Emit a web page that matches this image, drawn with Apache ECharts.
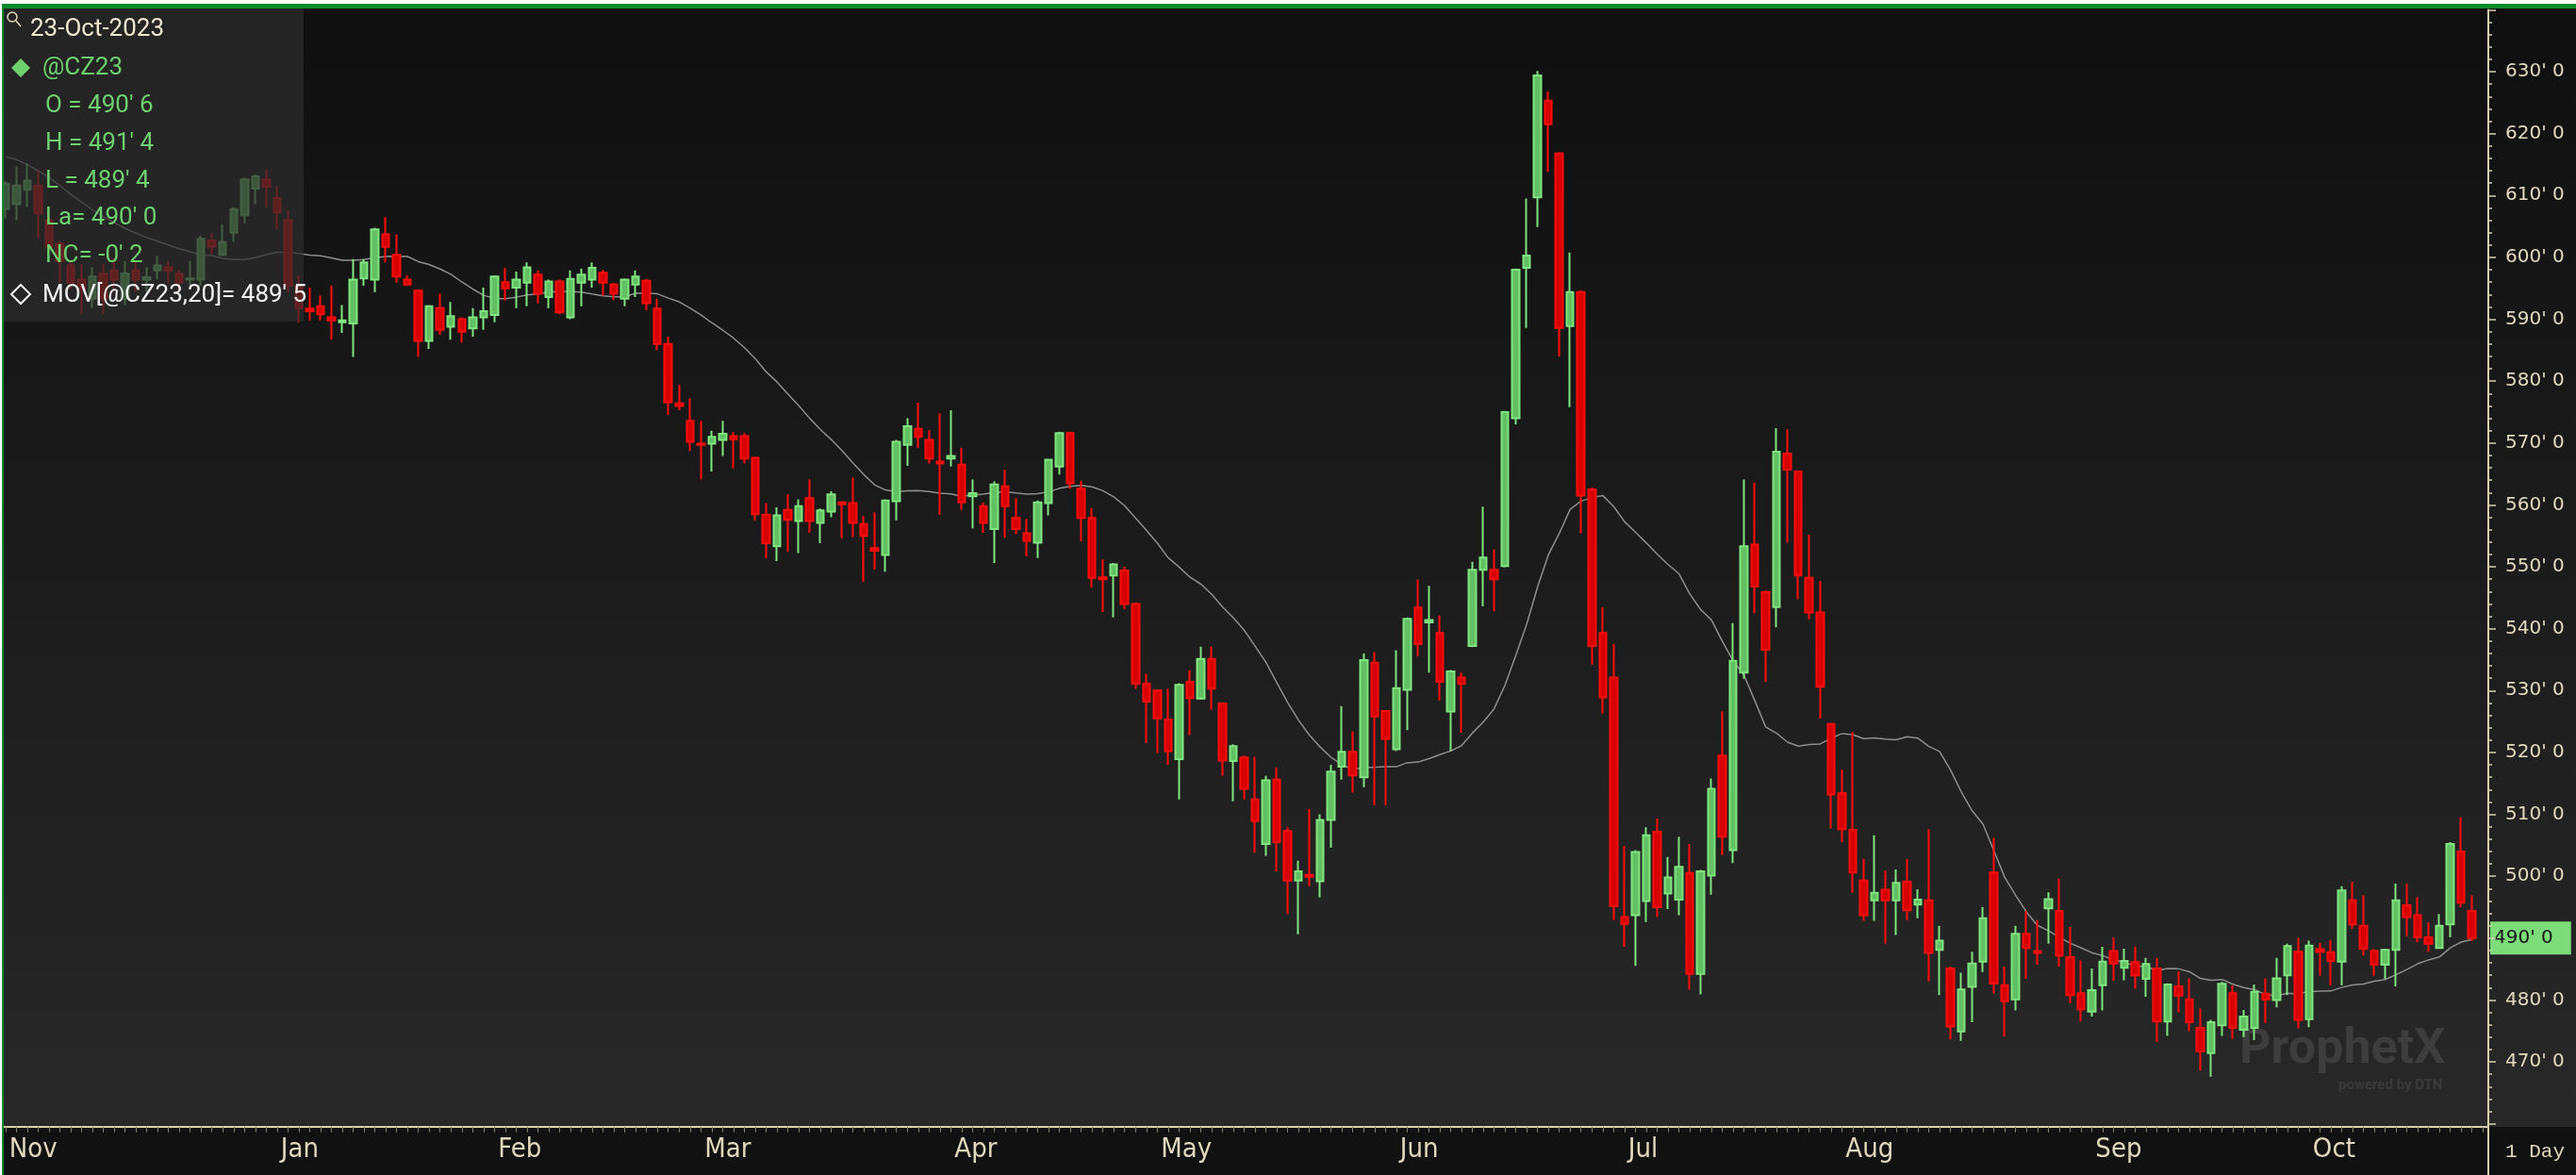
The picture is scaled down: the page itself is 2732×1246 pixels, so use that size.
<!DOCTYPE html>
<html>
<head>
<meta charset="utf-8">
<title>@CZ23 daily</title>
<script src="https://cdn.jsdelivr.net/npm/echarts@6.0.0/dist/echarts.min.js"></script>
<style>
  html, body { margin: 0; padding: 0; background: #ffffff; }
  #chart { position: absolute; left: 0; top: 0; width: 2732px; height: 1246px; }
  .edge { position: absolute; pointer-events: none; }
</style>
</head>
<body>
<div id="chart"></div>
<div class="edge" style="left:0;top:0;width:2732px;height:4px;background:#ffffff"></div>
<div class="edge" style="left:0;top:4px;width:2732px;height:5px;background:#0b8a2c"></div>
<div class="edge" style="left:0;top:0;width:2px;height:1246px;background:#ffffff"></div>
<div class="edge" style="left:2px;top:4px;width:2px;height:1242px;background:#0b8a2c"></div>
<script>
// trading days on the chart, one list per month
const monthKeys = ['2022-11', '2022-12', '2023-01', '2023-02', '2023-03', '2023-04',
  '2023-05', '2023-06', '2023-07', '2023-08', '2023-09', '2023-10']
const monthNames = ['Nov', 'Dec', 'Jan', 'Feb', 'Mar', 'Apr', 'May', 'Jun', 'Jul', 'Aug', 'Sep', 'Oct']
const tradingDays = [
  [25, 28, 29, 30],
  [1, 2, 5, 6, 7, 8, 9, 12, 13, 14, 15, 16, 19, 20, 21, 22, 23, 27, 28, 29, 30],
  [3, 4, 5, 6, 9, 10, 11, 12, 13, 17, 18, 19, 20, 23, 24, 25, 26, 27, 30, 31],
  [1, 2, 3, 6, 7, 8, 9, 10, 13, 14, 15, 16, 17, 21, 22, 23, 24, 27, 28],
  [1, 2, 3, 6, 7, 8, 9, 10, 13, 14, 15, 16, 17, 20, 21, 22, 23, 24, 27, 28, 29, 30, 31],
  [3, 4, 5, 6, 10, 11, 12, 13, 14, 17, 18, 19, 20, 21, 24, 25, 26, 27, 28],
  [1, 2, 3, 4, 5, 8, 9, 10, 11, 12, 15, 16, 17, 18, 19, 22, 23, 24, 25, 26, 30, 31],
  [1, 2, 5, 6, 7, 8, 9, 12, 13, 14, 15, 16, 20, 21, 22, 23, 26, 27, 28, 29, 30],
  [3, 5, 6, 7, 10, 11, 12, 13, 14, 17, 18, 19, 20, 21, 24, 25, 26, 27, 28, 31],
  [1, 2, 3, 4, 7, 8, 9, 10, 11, 14, 15, 16, 17, 18, 21, 22, 23, 24, 25, 28, 29, 30, 31],
  [1, 5, 6, 7, 8, 11, 12, 13, 14, 15, 18, 19, 20, 21, 22, 25, 26, 27, 28, 29],
  [2, 3, 4, 5, 6, 9, 10, 11, 12, 13, 16, 17, 18, 19, 20, 23]
]

// [open, close, low, high] in cents
const nov22 = [
  [607.8, 611.9, 606.3, 612.3], [608.6, 611.6, 606.0, 614.7], [610.9, 612.4, 608.1, 615.2],
  [611.6, 607.1, 603.0, 614.2]
]
const dec22 = [
  [606.0, 601.7, 601.2, 606.5], [602.2, 599.4, 595.9, 602.7], [598.7, 595.9, 594.9, 599.2],
  [596.4, 594.9, 590.8, 598.9], [593.3, 596.9, 591.8, 598.4], [597.4, 593.3, 590.8, 598.9],
  [597.9, 596.4, 594.4, 599.9], [593.3, 597.4, 592.3, 599.4], [597.9, 596.4, 594.4, 599.4],
  [596.4, 596.8, 594.4, 598.4], [597.9, 598.7, 596.4, 600.2], [598.4, 597.9, 595.9, 599.4],
  [597.4, 595.9, 594.4, 597.9], [596.4, 596.6, 594.9, 599.4], [596.4, 603.0, 595.4, 603.5],
  [602.7, 601.7, 600.4, 604.0], [600.4, 602.5, 600.2, 605.3], [604.0, 607.8, 602.5, 608.1],
  [606.8, 612.6, 605.5, 612.9], [611.1, 613.1, 608.6, 613.4], [612.6, 611.4, 608.1, 614.2]
]
const jan23 = [
  [609.6, 607.3, 604.5, 611.6], [606.0, 595.4, 594.4, 607.6], [595.4, 591.8, 589.5, 597.1],
  [591.7, 591.3, 589.8, 595.1], [592.1, 590.8, 589.8, 593.8], [590.3, 589.8, 586.7, 595.4],
  [589.5, 589.8, 587.8, 592.3], [589.3, 596.4, 583.9, 599.7], [596.6, 599.2, 595.4, 599.7],
  [596.4, 604.5, 594.4, 604.8], [603.7, 601.7, 599.2, 606.5], [600.4, 596.9, 595.9, 603.7],
  [596.4, 595.6, 595.4, 597.1], [594.6, 586.5, 583.9, 594.8], [586.5, 592.1, 585.2, 592.3],
  [591.8, 588.3, 587.5, 594.1], [588.8, 590.5, 586.7, 592.8], [590.0, 588.0, 586.2, 590.3],
  [588.5, 590.3, 587.2, 591.8], [590.3, 591.3, 588.3, 595.1]
]
const feb23 = [
  [590.7, 596.9, 589.5, 597.1], [596.0, 595.0, 593.0, 598.3], [595.1, 596.4, 591.8, 597.7],
  [595.9, 598.4, 592.1, 599.2], [597.2, 594.1, 592.6, 597.9], [593.6, 596.1, 591.8, 596.4],
  [596.1, 591.1, 590.8, 596.4], [590.3, 596.5, 590.0, 597.9], [595.9, 597.2, 592.1, 598.2],
  [596.4, 598.3, 595.1, 599.2], [597.5, 595.9, 593.8, 598.0], [595.6, 594.1, 593.1, 595.9],
  [593.3, 596.4, 592.1, 596.6], [595.6, 596.9, 593.6, 597.9], [596.2, 592.6, 591.5, 596.5],
  [591.7, 586.0, 585.0, 593.3], [586.0, 576.6, 574.5, 587.2], [576.4, 576.0, 575.3, 579.4],
  [573.6, 570.2, 568.7, 577.2]
]
const mar23 = [
  [569.9, 569.7, 564.1, 573.6], [569.9, 571.0, 565.4, 572.0], [570.5, 571.5, 567.9, 573.6],
  [571.1, 570.6, 565.9, 571.8], [571.1, 567.5, 566.7, 571.6], [567.6, 558.5, 557.5, 567.8],
  [558.4, 553.8, 551.4, 560.3], [553.3, 558.3, 550.9, 559.6], [559.2, 557.6, 552.4, 561.7],
  [557.4, 559.8, 552.2, 560.9], [561.1, 557.4, 555.5, 564.1], [557.1, 559.1, 553.8, 559.4],
  [558.9, 561.7, 558.0, 562.2], [560.4, 560.1, 554.6, 560.6], [560.3, 557.1, 554.8, 564.4],
  [556.9, 555.0, 547.6, 558.2], [553.0, 552.6, 549.6, 558.8], [551.9, 560.7, 549.2, 560.9],
  [560.6, 570.2, 557.5, 570.5], [569.7, 572.7, 566.3, 574.0], [572.3, 571.0, 569.2, 576.5],
  [570.5, 567.5, 566.7, 572.1], [567.0, 566.7, 558.4, 574.8]
]
const apr23 = [
  [567.5, 567.9, 566.2, 575.3], [566.5, 560.4, 559.2, 569.2], [561.4, 561.9, 556.2, 564.1],
  [559.8, 557.1, 555.5, 560.4], [556.1, 563.3, 550.6, 563.8], [563.0, 559.8, 554.7, 565.7],
  [557.9, 556.1, 555.3, 561.1], [555.4, 554.2, 551.7, 557.7], [553.9, 560.4, 551.4, 560.7],
  [560.3, 567.3, 558.3, 567.4], [566.2, 571.6, 564.9, 571.8], [571.6, 563.5, 562.6, 571.8],
  [562.6, 557.9, 554.1, 563.9], [557.9, 548.2, 546.6, 559.5], [548.3, 548.0, 542.7, 551.2],
  [548.6, 550.4, 541.8, 550.6], [549.4, 544.0, 543.2, 550.0], [544.0, 531.1, 530.3, 544.2],
  [531.1, 528.2, 521.5, 532.7]
]
const may23 = [
  [530.0, 525.5, 519.9, 530.2], [525.3, 520.2, 518.0, 530.3], [518.9, 530.9, 512.4, 531.2],
  [531.4, 528.8, 522.8, 533.3], [528.7, 535.1, 528.5, 537.1], [535.1, 530.3, 526.9, 537.1],
  [527.9, 518.7, 516.2, 528.1], [518.6, 521.0, 512.1, 521.3], [519.2, 514.1, 512.4, 519.5],
  [512.4, 508.9, 503.8, 519.3], [505.2, 515.5, 503.3, 516.2], [515.6, 505.5, 500.8, 517.5],
  [507.3, 499.3, 493.9, 507.9], [499.3, 500.8, 490.6, 502.5], [500.2, 499.9, 498.4, 510.9],
  [499.2, 509.1, 496.6, 510.0], [509.1, 516.9, 504.6, 518.0], [517.7, 520.1, 515.6, 527.5],
  [520.1, 516.3, 513.5, 523.4], [516.0, 534.9, 514.4, 536.0], [534.5, 525.8, 511.5, 536.2],
  [526.7, 522.2, 511.5, 526.8]
]
const jun23 = [
  [520.5, 530.4, 520.2, 536.5], [530.1, 541.6, 523.6, 541.8], [543.4, 537.5, 535.5, 547.9],
  [541.0, 541.4, 532.9, 546.9], [539.3, 531.4, 528.4, 542.1], [526.6, 533.1, 520.2, 533.3],
  [532.1, 531.1, 523.2, 532.9], [537.2, 549.5, 537.0, 550.8], [549.5, 551.5, 543.6, 559.7],
  [549.5, 548.0, 542.8, 552.8], [550.1, 575.0, 549.9, 575.2], [574.0, 598.0, 573.0, 598.2],
  [598.3, 600.3, 588.6, 609.5], [609.7, 629.4, 604.9, 630.1], [625.3, 621.5, 613.8, 626.8],
  [616.8, 588.6, 584.0, 617.0], [588.9, 594.4, 575.8, 600.8], [594.4, 561.5, 555.4, 594.7],
  [562.5, 537.2, 534.2, 562.8], [539.3, 528.9, 526.3, 543.4], [532.1, 495.2, 492.9, 537.5]
]
const jul23 = [
  [493.4, 492.3, 488.6, 504.9], [493.7, 503.9, 485.5, 504.2], [496.0, 506.6, 492.6, 507.9],
  [507.2, 495.0, 493.4, 509.3], [497.2, 499.8, 494.7, 503.1], [496.2, 501.5, 493.7, 506.4],
  [500.5, 484.2, 481.7, 505.2], [484.2, 500.8, 480.9, 501.0], [500.1, 514.1, 497.0, 515.8],
  [519.5, 506.4, 503.4, 526.6], [504.2, 534.8, 502.1, 540.9], [532.9, 553.3, 531.9, 564.1],
  [553.6, 546.8, 542.5, 563.6], [545.9, 536.6, 531.4, 546.2], [543.5, 568.6, 540.2, 572.4],
  [568.3, 565.7, 553.9, 572.2], [565.4, 548.6, 544.8, 565.6], [548.2, 542.6, 541.5, 555.2],
  [542.6, 530.6, 525.5, 547.7], [524.6, 513.2, 507.7, 524.8]
]
const aug23 = [
  [513.4, 507.6, 505.5, 517.2], [507.5, 500.6, 497.3, 523.3], [499.3, 493.7, 492.8, 502.8],
  [496.1, 497.3, 492.8, 506.6], [497.8, 496.1, 489.1, 500.9], [496.1, 498.9, 490.5, 501.1],
  [499.1, 494.5, 492.9, 502.8], [495.4, 496.2, 493.2, 497.9], [496.1, 487.6, 483.0, 507.6],
  [488.1, 489.6, 480.8, 492.0], [485.1, 475.7, 473.6, 485.4], [474.9, 481.7, 473.4, 484.4],
  [482.1, 485.9, 476.4, 487.8], [486.2, 493.2, 484.5, 495.0], [500.6, 482.7, 481.1, 506.2],
  [482.4, 479.8, 474.1, 485.4], [480.1, 490.7, 478.3, 492.0], [490.7, 488.4, 483.4, 494.4],
  [487.9, 487.6, 485.7, 492.9], [494.8, 496.3, 489.1, 497.4], [494.4, 487.2, 485.4, 499.6],
  [486.9, 480.8, 479.5, 491.8], [481.1, 478.5, 476.5, 486.4]
]
const sep23 = [
  [478.1, 481.6, 477.3, 485.1], [482.4, 486.2, 478.3, 488.6], [487.9, 485.9, 483.1, 490.1],
  [485.2, 486.3, 483.2, 488.3], [486.1, 484.0, 481.8, 488.6], [483.4, 485.8, 480.5, 486.8],
  [485.1, 476.5, 473.2, 486.8], [476.5, 482.5, 474.2, 482.7], [482.2, 480.7, 478.0, 484.6],
  [480.1, 476.4, 474.9, 483.5], [475.5, 471.7, 468.6, 478.6], [471.4, 476.4, 467.6, 476.8],
  [475.9, 482.6, 474.2, 482.9], [481.1, 475.5, 473.7, 482.4], [475.2, 477.3, 474.0, 478.4],
  [475.5, 481.3, 473.5, 482.5], [481.0, 480.1, 476.3, 483.5], [480.0, 483.5, 478.8, 486.8],
  [484.0, 488.7, 480.8, 489.1], [487.8, 476.8, 475.4, 490.0]
]
const oct23 = [
  [476.9, 488.8, 475.6, 489.6], [488.2, 487.8, 483.9, 489.2], [487.7, 486.3, 482.4, 489.7],
  [486.2, 497.7, 482.4, 498.4], [496.1, 492.2, 491.5, 499.1], [492.0, 488.3, 487.2, 496.9],
  [487.9, 485.7, 483.9, 488.2], [485.7, 488.1, 483.4, 488.3], [488.1, 496.1, 482.2, 498.8],
  [495.3, 493.4, 490.3, 498.8], [493.7, 490.1, 489.3, 496.6], [490.1, 489.1, 487.8, 492.5],
  [488.4, 492.0, 488.3, 493.9], [492.2, 505.2, 490.1, 505.5], [504.0, 495.7, 495.0, 509.5],
  [494.4, 490.0, 489.5, 496.9]
]

// 20-day average for the first bars (its window starts before the chart)
const maLead = [616.3, 615.8, 615.0, 614.0, 612.9, 611.6, 610.2, 608.9, 607.7, 606.6,
  605.6, 604.7, 603.9, 603.2, 602.6, 602.0, 601.4, 600.9, 600.4]

// header texts
const quoteDate = '23-Oct-2023'
const symbol = '@CZ23'
const quote = [490.75, 491.5, 489.5, 490.0] // O H L La
const netChange = -0.25
const movValue = 489.625

const ohlc = [].concat(nov22, dec22, jan23, feb23, mar23, apr23, may23, jun23, jul23, aug23, sep23, oct23)

let dates = []
let monthStart = []
tradingDays.forEach(function (list, m) {
  monthStart.push(dates.length)
  list.forEach(function (d) {
    dates.push(monthKeys[m] + '-' + (d < 10 ? '0' + d : d))
  })
})
// one empty slot after the last bar, as on the reference
let cats = dates.concat(['2023-10-24'])

// month labels: first one always, later ones when there is room for them
let labelIdx = {}
let sepIdx = {}
let lastShown = -100
monthStart.forEach(function (idx, m) {
  if (idx - lastShown >= 8) {
    labelIdx[idx] = monthNames[m]
    if (idx > 0) sepIdx[idx] = true
    lastShown = idx
  }
})

const closes = ohlc.map(function (r) { return r[1] })
let ma = []
for (let i = 0; i < closes.length; i++) {
  if (i < 19) {
    ma.push(maLead[i])
  } else {
    let s = 0
    for (let k = i - 19; k <= i; k++) s += closes[k]
    ma.push(+(s / 20).toFixed(2))
  }
}
const lastClose = closes[closes.length - 1]

// prices in cents and eighths, e.g. 490' 6
function fmt (v) {
  let neg = v < 0
  let a = Math.abs(v)
  let w = Math.floor(a + 1e-9)
  let e = Math.round((a - w) * 8)
  if (e === 8) { w += 1; e = 0 }
  return (neg ? '-' : '') + w + "' " + e
}

const beige = '#e2d9bd'
const green = '#6fd06f'
const legendFont = 'Roboto, "Open Sans", sans-serif'

let myChart = echarts.init(document.getElementById('chart'))

let option = {
  animation: false,
  backgroundColor: new echarts.graphic.LinearGradient(0, 0, 0, 1, [
    { offset: 0, color: '#0f0f0f' },
    { offset: 0.96, color: '#282828' },
    { offset: 1, color: '#282828' }
  ]),
  grid: { left: 0, right: 93, top: 10.375, bottom: 54.375 },
  xAxis: [
    {
      type: 'category',
      data: cats,
      boundaryGap: true,
      offset: 3,
      z: 10,
      axisLine: { show: true, lineStyle: { color: '#d8cfad', width: 2 } },
      axisTick: { show: true, interval: 0, alignWithLabel: true, length: 6, lineStyle: { color: '#8a8470', width: 1 } },
      axisLabel: {
        interval: function (i) { return labelIdx[i] !== undefined },
        formatter: function (v, i) { return labelIdx[i] || '' },
        align: 'left',
        padding: [0, 0, 0, 4],
        margin: 10,
        color: beige,
        fontFamily: '"Liberation Sans Narrow", "DejaVu Sans Condensed", sans-serif',
        fontSize: 29
      },
      splitLine: { show: false }
    },
    {
      type: 'category',
      data: cats,
      boundaryGap: true,
      offset: 3,
      z: 9,
      axisLine: { show: false },
      axisLabel: { show: false },
      axisTick: {
        show: true,
        interval: function (i) { return sepIdx[i] === true },
        alignWithLabel: true,
        length: 52,
        lineStyle: { color: '#d8cfad', width: 1.5 }
      },
      splitLine: { show: false }
    }
  ],
  yAxis: {
    type: 'value',
    position: 'right',
    min: 460,
    max: 640,
    interval: 10,
    z: 10,
    axisLine: { show: true, lineStyle: { color: '#d8cfad', width: 2 } },
    axisTick: { show: true, length: 8, lineStyle: { color: '#d8cfad', width: 1.5 } },
    minorTick: { show: true, splitNumber: 5, length: 4, lineStyle: { color: '#d8cfad', width: 1.5 } },
    axisLabel: {
      margin: 18,
      color: beige,
      fontFamily: '"DejaVu Sans", sans-serif',
      fontSize: 20,
      // the last-price box sits over its own level, so that label is left out
      formatter: function (v) {
        if (v <= 460 || v >= 640 || Math.abs(v - lastClose) < 5) return ''
        return fmt(v)
      }
    },
    splitLine: { show: false },
    minorSplitLine: { show: false }
  },
  series: [
    {
      name: symbol,
      type: 'candlestick',
      data: ohlc,
      barWidth: 8,
      z: 12,
      itemStyle: {
        color: '#62c062',
        color0: '#d60000',
        borderColor: '#80e480',
        borderColor0: '#ff0d0d',
        borderWidth: 2
      },
      markLine: {
        silent: true,
        symbol: ['none', 'none'],
        lineStyle: { color: 'rgba(0,0,0,0)', width: 0 },
        label: {
          show: true,
          position: 'end',
          distance: 2,
          formatter: function () { return fmt(lastClose) },
          backgroundColor: '#7ddc7a',
          color: '#151515',
          fontFamily: '"DejaVu Sans", sans-serif',
          fontSize: 20,
          padding: [8, 19, 7, 4]
        },
        emphasis: { disabled: true },
        data: [{ yAxis: lastClose }]
      }
    },
    {
      name: 'MOV',
      type: 'line',
      data: ma,
      symbol: 'none',
      showSymbol: false,
      z: 11,
      lineStyle: { color: '#8e8e8e', width: 1.5 }
    }
  ],
  graphic: [
    // bottom time-axis band
    { type: 'rect', z: 1, shape: { x: 0, y: 1195, width: 2732, height: 51 }, style: { fill: '#111111' } },
    { type: 'line', z: 11, shape: { x1: 2639, y1: 1190, x2: 2639, y2: 1246 }, style: { stroke: '#d8cfad', lineWidth: 2 } },
    { type: 'text', z: 11, x: 2657, y: 1221, style: { text: '1 Day', fill: beige, font: '21px "Liberation Mono", monospace', verticalAlign: 'middle' } },
    // watermark
    { type: 'text', z: 1, x: 2375, y: 1114, style: { text: 'ProphetX', fill: '#3d3d3d', font: 'bold 52px Roboto, sans-serif', verticalAlign: 'middle' } },
    { type: 'text', z: 1, x: 2480, y: 1151, style: { text: 'powered by DTN', fill: '#3a3a3a', font: 'bold 15px Roboto, sans-serif', verticalAlign: 'middle' } },
    // quote box
    { type: 'rect', z: 20, shape: { x: 0, y: 0, width: 322, height: 341 }, style: { fill: 'rgba(44,44,44,0.72)' } },
    { type: 'circle', z: 21, shape: { cx: 13, cy: 18, r: 5 }, style: { fill: 'none', stroke: beige, lineWidth: 1.5 } },
    { type: 'line', z: 21, shape: { x1: 17, y1: 22, x2: 22, y2: 28 }, style: { stroke: beige, lineWidth: 1.5 } },
    { type: 'text', z: 21, x: 32, y: 31, style: { text: quoteDate, fill: '#efe7cf', font: '26px ' + legendFont, verticalAlign: 'middle' } },
    { type: 'polygon', z: 21, shape: { points: [[22, 62], [32, 72], [22, 82], [12, 72]] }, style: { fill: green } },
    { type: 'text', z: 21, x: 45, y: 72, style: { text: symbol, fill: green, font: '26px ' + legendFont, verticalAlign: 'middle' } },
    { type: 'text', z: 21, x: 48, y: 112, style: { text: 'O = ' + fmt(quote[0]), fill: green, font: '26px ' + legendFont, verticalAlign: 'middle' } },
    { type: 'text', z: 21, x: 48, y: 152, style: { text: 'H = ' + fmt(quote[1]), fill: green, font: '26px ' + legendFont, verticalAlign: 'middle' } },
    { type: 'text', z: 21, x: 48, y: 192, style: { text: 'L = ' + fmt(quote[2]), fill: green, font: '26px ' + legendFont, verticalAlign: 'middle' } },
    { type: 'text', z: 21, x: 48, y: 231, style: { text: 'La= ' + fmt(quote[3]), fill: green, font: '26px ' + legendFont, verticalAlign: 'middle' } },
    { type: 'text', z: 21, x: 48, y: 271, style: { text: 'NC= ' + fmt(netChange), fill: green, font: '26px ' + legendFont, verticalAlign: 'middle' } },
    { type: 'polygon', z: 21, shape: { points: [[22, 302], [32, 312], [22, 322], [12, 312]] }, style: { fill: 'none', stroke: '#f4f4f4', lineWidth: 2 } },
    { type: 'text', z: 21, x: 45, y: 313, style: { text: 'MOV[' + symbol + ',20]= ' + fmt(movValue), fill: '#f2f2f2', font: '26px ' + legendFont, verticalAlign: 'middle' } }
  ]
}

myChart.setOption(option)
</script>
</body>
</html>
